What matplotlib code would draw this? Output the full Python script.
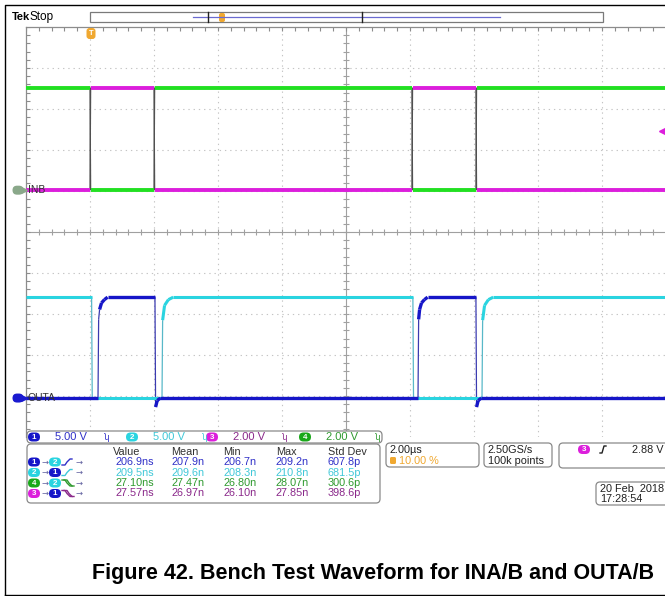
import numpy as np
import matplotlib
matplotlib.use("Agg")
import matplotlib.pyplot as plt
from matplotlib.patches import FancyBboxPatch, Rectangle
from matplotlib.collections import LineCollection

# ---------------- data ----------------
time_per_div_us = 2.0
trigger_pos_pct = 10.0
n_hdiv = 10
n_vdiv = 10

ch_volts_per_div = {"1": 5.0, "2": 5.0, "3": 2.0, "4": 2.0}
ch_ground_div = {"1": -4.05, "2": -4.05, "3": 1.02, "4": 1.02}
ch_colors = {"1": "#1616c8", "2": "#2ad4e0", "3": "#dc1edc", "4": "#22e022"}
ch_edge_colors = {"1": "#3a3ab0", "2": "#58b8c8", "3": "#505050", "4": "#505050"}
ch_text_colors = {"1": "#3030c8", "2": "#40c8d8", "3": "#8a288a", "4": "#2f9a2f"}
ch_scale_labels = {"1": "5.00 V", "2": "5.00 V", "3": "2.00 V", "4": "2.00 V"}

# waveform vertices: time (µs), value (V)
ch1_t = [-2.0, 0.25, 0.27, 0.30, 0.36, 0.45, 0.55, 2.03, 2.05, 2.10, 2.20,
         10.25, 10.27, 10.30, 10.36, 10.45, 10.55, 12.06, 12.08, 12.13, 12.23, 18.0]
ch1_v = [0, 0, 9.6, 10.8, 11.6, 12.0, 12.3, 12.3, -1.1, -0.3, 0,
         0, 9.6, 10.8, 11.6, 12.0, 12.3, 12.3, -1.1, -0.3, 0, 0]
ch2_t = [-2.0, 0.05, 0.07, 2.25, 2.27, 2.33, 2.45, 2.60,
         10.09, 10.11, 12.25, 12.27, 12.33, 12.45, 12.60, 18.0]
ch2_v = [12.3, 12.3, 0, 0, 9.5, 11.3, 12.0, 12.3,
         12.3, 0, 0, 9.5, 11.3, 12.0, 12.3, 12.3]
ch3_t = [-2.0, 0.0, 0.02, 2.0, 2.02, 10.06, 10.08, 12.06, 12.08, 18.0]
ch3_v = [0, 0, 5.0, 5.0, 0, 0, 5.0, 5.0, 0, 0]
ch4_t = [-2.0, 0.0, 0.02, 2.0, 2.02, 10.06, 10.08, 12.06, 12.08, 18.0]
ch4_v = [5.0, 5.0, 0, 0, 5.0, 5.0, 0, 0, 5.0, 5.0]

trigger_level_v = 2.88

# measurement table
meas_src = ["1", "2", "4", "3"]
meas_dst = ["2", "1", "2", "1"]
meas_edge = ["rise", "rise", "fall", "fall"]
meas_headers = ["Value", "Mean", "Min", "Max", "Std Dev"]
meas_value = ["206.9ns", "209.5ns", "27.10ns", "27.57ns"]
meas_mean = ["207.9n", "209.6n", "27.47n", "26.97n"]
meas_min = ["206.7n", "208.3n", "26.80n", "26.10n"]
meas_max = ["209.2n", "210.8n", "28.07n", "27.85n"]
meas_std = ["607.8p", "681.5p", "300.6p", "398.6p"]

caption = "Figure 42. Bench Test Waveform for INA/B and OUTA/B"

# ---------------- figure ----------------
W, H = 665, 596
fig = plt.figure(figsize=(W / 100, H / 100), dpi=100)
FONT = "Liberation Sans"

g_left, g_right, g_top, g_bot = 26, 666, 27, 437
ax = fig.add_axes([g_left / W, 1 - g_bot / H, (g_right - g_left) / W, (g_bot - g_top) / H])
t0 = -time_per_div_us * n_hdiv * trigger_pos_pct / 100
t1 = t0 + time_per_div_us * n_hdiv
ax.set_xlim(t0, t1)
ax.set_ylim(-n_vdiv / 2, n_vdiv / 2)
ax.set_xticks([]); ax.set_yticks([])
for s in ["right", "bottom"]:
    ax.spines[s].set_visible(False)
for s in ["left", "top"]:
    ax.spines[s].set_color("#8c8c8c")
    ax.spines[s].set_linewidth(0.9)

gc = "#c4c4c4"
xc = (t0 + t1) / 2
for k in range(1, n_hdiv):
    x = t0 + k * time_per_div_us
    if abs(x - xc) > 1e-9:
        ax.axvline(x, color=gc, lw=0.8, ls=(0, (1.2, 3.5)), zorder=1)
for k in range(1, n_vdiv):
    y = -n_vdiv / 2 + k
    if abs(y) > 1e-9:
        ax.axhline(y, color=gc, lw=0.8, ls=(0, (1.2, 3.5)), zorder=1)
ax.axvline(xc, color="#a0a0a0", lw=0.8, zorder=1)
ax.axhline(0, color="#a0a0a0", lw=0.8, zorder=1)
# ticks on center lines and frame
xm = np.arange(t0, t1 + 1e-9, time_per_div_us / 5)
ym = np.arange(-n_vdiv / 2, n_vdiv / 2 + 1e-9, 0.2)
ax.vlines(xm, -0.08, 0.08, color="#a0a0a0", lw=0.8, zorder=1)
ax.hlines(ym, xc - 0.1, xc + 0.1, color="#a0a0a0", lw=0.8, zorder=1)
ax.vlines(xm, n_vdiv / 2 - 0.1, n_vdiv / 2, color="#8c8c8c", lw=0.8, zorder=1)
ax.hlines(ym, t0, t0 + 0.12, color="#8c8c8c", lw=0.8, zorder=1)


def draw_trace(ch, t, v, thick):
    t = np.asarray(t, float)
    y = np.asarray(v, float) / ch_volts_per_div[ch] + ch_ground_div[ch]
    pts = np.column_stack([t, y])
    segs = np.stack([pts[:-1], pts[1:]], axis=1)
    dt = np.diff(t)
    flat = dt >= 0.03
    ax.add_collection(LineCollection(segs[~flat], colors=ch_edge_colors[ch], linewidths=0.9, zorder=3))
    ax.add_collection(LineCollection(segs[flat], colors=ch_colors[ch], linewidths=thick, zorder=4,
                                     capstyle="butt"))


draw_trace("3", ch3_t, ch3_v, 2.8)
draw_trace("4", ch4_t, ch4_v, 2.8)
draw_trace("2", ch2_t, ch2_v, 2.2)
draw_trace("1", ch1_t, ch1_v, 2.4)

# ---------------- overlay (pixel coordinates) ----------------
ov = fig.add_axes([0, 0, 1, 1], zorder=5)
ov.set_xlim(0, W); ov.set_ylim(H, 0)
ov.axis("off")
ov.patch.set_visible(False)

# outer frame
ov.plot([4.5, 4.5, 666], [594.5, 4.5, 4.5], color="black", lw=1.0)
ov.plot([4.5, 666], [594.5, 594.5], color="black", lw=1.0)


def txt(x, y, s, color="black", size=7.8, ha="left", va="center", weight="normal", family=FONT):
    ov.text(x, y, s, color=color, fontsize=size, ha=ha, va=va, fontweight=weight, family=family,
            zorder=9)


def pill(cx, cy, label, color, w=12, h=9, tsize=5.8):
    ov.add_patch(FancyBboxPatch((cx - w / 2, cy - h / 2), w, h,
                                boxstyle=f"round,pad=0,rounding_size={h / 2}",
                                fc=color, ec="none", zorder=7))
    ov.text(cx, cy + 0.3, label, color="white", fontsize=tsize, ha="center", va="center",
            fontweight="bold", family=FONT, zorder=8)


def rbox(x0, y0, x1, y1, r=4):
    ov.add_patch(FancyBboxPatch((x0, y0), x1 - x0, y1 - y0,
                                boxstyle=f"round,pad=0,rounding_size={r}",
                                fc="white", ec="#8a8a8a", lw=0.9, zorder=5))


# top status bar
txt(12, 17, "Tek", size=8, weight="bold")
txt(30, 17, "Stop", size=8.5)
ov.add_patch(Rectangle((90, 12), 513, 10, fc="white", ec="#7a7a7a", lw=0.9))
ov.plot([193, 500], [17, 17], color="#6a6ad0", lw=0.9)
ov.plot([208, 208], [12, 22], color="#202020", lw=1.0)
ov.plot([362, 362], [12, 22], color="#202020", lw=1.0)
ov.add_patch(FancyBboxPatch((219, 13), 6, 9, boxstyle="round,pad=0,rounding_size=2",
                            fc="#f0a830", ec="none"))
# trigger position marker
ov.add_patch(FancyBboxPatch((86.5, 28), 9, 11, boxstyle="round,pad=0,rounding_size=3",
                            fc="#f0a830", ec="none", zorder=6))
ov.text(91, 33.5, "T", color="white", fontsize=5.5, ha="center", va="center", family=FONT,
        fontweight="bold", zorder=7)

# ground / trigger markers (positions from channel settings)
def div_to_py(d):
    return g_top + (n_vdiv / 2 - d) * (g_bot - g_top) / n_vdiv


py4 = div_to_py(ch_ground_div["4"])
py1 = div_to_py(ch_ground_div["1"])
pill(18, py4, "", "#8aa88a", w=11, h=9)
ov.plot([24], [py4], marker=">", ms=4, color="#8aa88a")
txt(28, py4, "INB", color="#303030", size=7.5)
pill(18, py1, "", "#1a1ad0", w=11, h=9)
ov.plot([24], [py1], marker=">", ms=4, color="#1a1ad0")
txt(28, py1, "OUTA", color="#303030", size=7.5)
pyt = div_to_py(ch_ground_div["3"] + trigger_level_v / ch_volts_per_div["3"])
ov.plot([662], [pyt], marker="<", ms=5, color="#dc1edc")

# channel scale row
rbox(27, 431, 382, 443, r=4)
cx_pos = {"1": 34, "2": 132, "3": 212, "4": 305}
for ch in ["1", "2", "3", "4"]:
    c = cx_pos[ch]
    pill(c, 437, ch, ch_colors[ch] if ch != "4" else "#1aa81a")
    txt(c + 21, 437.5, ch_scale_labels[ch], color=ch_text_colors[ch], size=8)
    txt(c + 70, 437, "ʮ", color=ch_text_colors[ch], size=6, family="DejaVu Sans")

# measurement table
rbox(27, 444, 380, 503, r=4)
col_x = [113, 171, 223, 276, 328]
for x, hd in zip(col_x, meas_headers):
    txt(x, 452, hd, color="#303030", size=7.8)
row_y = [462, 472.5, 483, 493.5]
cols = [meas_value, meas_mean, meas_min, meas_max, meas_std]
for i in range(4):
    y = row_y[i]
    src, dst = meas_src[i], meas_dst[i]
    colr = ch_text_colors[src]
    pill(34, y, src, ch_colors[src] if src != "4" else "#1aa81a")
    txt(41, y, "→", color="#6060a0", size=6, family="DejaVu Sans")
    pill(55, y, dst, ch_colors[dst])
    if meas_edge[i] == "rise":
        ov.plot([62, 65, 67, 70, 72], [y + 3, y + 3, y, y - 3, y - 3], color=colr, lw=1.0, zorder=8)
    else:
        ov.plot([62, 65, 67, 70, 72], [y - 3, y - 3, y, y + 3, y + 3], color=colr, lw=1.0, zorder=8)
        ov.plot([64, 67, 69, 72, 74], [y - 3, y - 3, y, y + 3, y + 3], color=colr, lw=1.0, zorder=8)
    txt(75, y, "→", color="#6060a0", size=6, family="DejaVu Sans")
    for x, col in zip(col_x, cols):
        txt(x + (2 if col is meas_value else 0), y, col[i], color=colr, size=7.8)

# timebase box
rbox(386, 443, 479, 467, r=4)
txt(390, 450, "2.00µs", color="#202020", size=7.8)
ov.add_patch(FancyBboxPatch((390, 457), 6, 7, boxstyle="round,pad=0,rounding_size=1.5",
                            fc="#f0a830", ec="none", zorder=6))
txt(399, 461, "10.00 %", color="#f0a830", size=7.8)

# acquisition box
rbox(484, 443, 552, 467, r=4)
txt(488, 450, "2.50GS/s", color="#202020", size=7.8)
txt(488, 461, "100k points", color="#202020", size=7.8)

# trigger box
rbox(559, 443, 690, 468, r=4)
pill(584, 449.5, "3", ch_colors["3"])
ov.plot([600, 602, 603, 604, 606], [453, 453, 449.5, 446, 446], color="#202020", lw=1.0, zorder=8)
txt(663, 450, "2.88 V", color="#202020", size=7.8, ha="right")

# date box
rbox(596, 482, 690, 505, r=4)
txt(600, 489, "20 Feb  2018", color="#202020", size=7.8)
txt(600, 499, "17:28:54", color="#202020", size=7.8)

# caption
ov.text(373, 573, caption, fontsize=15.5, fontweight="bold", family=FONT,
        ha="center", va="center", color="black")

fig.savefig("out.png", dpi=100)
